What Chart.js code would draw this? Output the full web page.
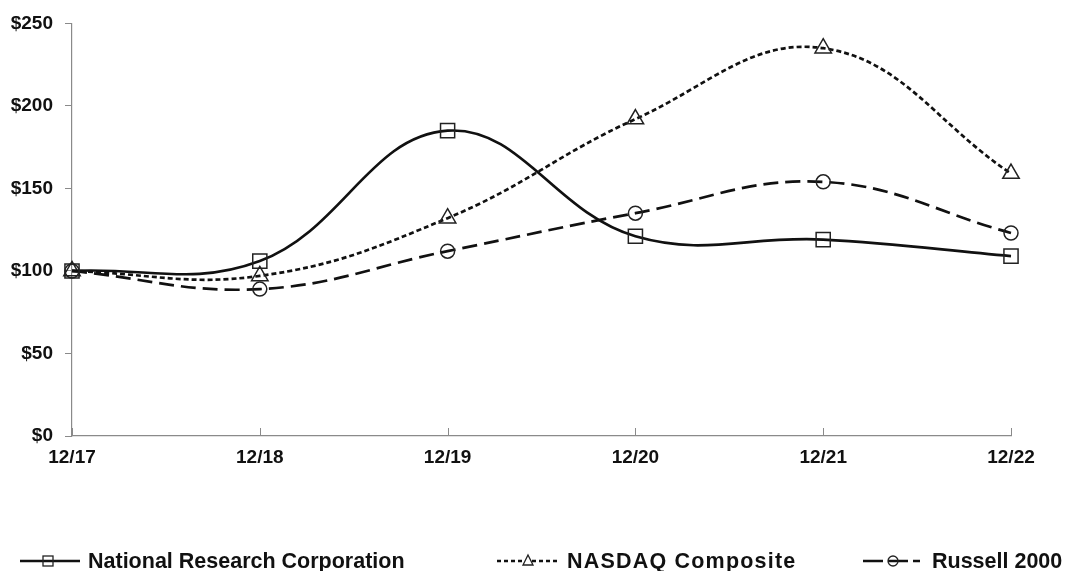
<!DOCTYPE html>
<html>
<head>
<meta charset="utf-8">
<script src="https://cdn.jsdelivr.net/npm/chart.js@4.4.1/dist/chart.umd.min.js"></script>
<style>
  html, body { margin: 0; padding: 0; background: #fff; }
  #wrap { position: relative; width: 1065px; height: 571px; }
  #c { position: absolute; left: 0; top: 0; }
  .lg { position: absolute; font-family: "Liberation Sans", Arial, sans-serif; font-weight: bold; font-size: 21.5px; line-height: 22px; height: 22px; color: #111; white-space: nowrap; }
  .sw { position: absolute; }
</style>
</head>
<body>
<div id="wrap">
  <canvas id="c" width="1065" height="571"></canvas>
  <svg class="sw" style="left:20px;top:551px" width="62" height="20">
    <line x1="0" y1="10" x2="60" y2="10" stroke="#111" stroke-width="2.5"/>
    <rect x="23" y="5" width="10" height="10" fill="none" stroke="#222" stroke-width="1.3"/>
  </svg>
  <div class="lg" style="left:88px;top:550px">National Research Corporation</div>
  <svg class="sw" style="left:497px;top:551px" width="62" height="20">
    <line x1="0" y1="10" x2="61" y2="10" stroke="#111" stroke-width="2.5" stroke-dasharray="4 3"/>
    <polygon points="31,4 36,14 26,14" fill="#fff" stroke="#222" stroke-width="1.3"/>
  </svg>
  <div class="lg" style="left:567px;top:550px;letter-spacing:1.2px">NASDAQ Composite</div>
  <svg class="sw" style="left:863px;top:551px" width="62" height="20">
    <line x1="0" y1="10" x2="57" y2="10" stroke="#111" stroke-width="2.5" stroke-dasharray="20 5"/>
    <circle cx="30" cy="10" r="5" fill="none" stroke="#222" stroke-width="1.3"/>
  </svg>
  <div class="lg" style="left:932px;top:550px">Russell 2000</div>
</div>
<script>
// ---- data ----
const categories = ["12/17", "12/18", "12/19", "12/20", "12/21", "12/22"];
const nrcValues = [100, 106, 185, 121, 119, 109];
const nasdaqValues = [100, 97, 132, 192, 235, 159];
const russellValues = [100, 89, 112, 135, 154, 123];
const yTickValues = [0, 50, 100, 150, 200, 250];
const seriesNames = ["National Research Corporation", "NASDAQ Composite", "Russell 2000"];

const FONT = { family: '"Liberation Sans", Arial, sans-serif', weight: 'bold', size: 19 };
const AXIS_COLOR = '#8a8a8a';

// draws the x-axis tick marks pointing upward (inside), from the library's own scale
const insideTicks = {
  id: 'insideTicks',
  beforeDatasetsDraw(chart) {
    const x = chart.scales.x;
    const ctx = chart.ctx;
    ctx.save();
    ctx.strokeStyle = AXIS_COLOR;
    ctx.lineWidth = 1;
    ctx.beginPath();
    for (let i = 0; i < x.ticks.length; i++) {
      const px = Math.round(x.getPixelForTick(i)) + 0.5;
      ctx.moveTo(px, x.top);
      ctx.lineTo(px, x.top - 8);
    }
    ctx.stroke();
    ctx.restore();
  }
};

new Chart(document.getElementById('c'), {
  type: 'line',
  data: {
    labels: categories,
    datasets: [
      {
        label: seriesNames[0], data: nrcValues,
        borderColor: '#111', borderWidth: 2.7, tension: 0.4,
        pointStyle: 'rect', pointRadius: 10, pointBorderWidth: 1.5,
        pointBorderColor: '#222', pointBackgroundColor: 'rgba(0,0,0,0)'
      },
      {
        label: seriesNames[1], data: nasdaqValues,
        borderColor: '#111', borderWidth: 2.7, borderDash: [5, 3], tension: 0.4,
        pointStyle: 'triangle', pointRadius: 9.5, pointBorderWidth: 1.5,
        pointBorderColor: '#222', pointBackgroundColor: 'rgba(0,0,0,0)'
      },
      {
        label: seriesNames[2], data: russellValues,
        borderColor: '#111', borderWidth: 2.7, borderDash: [15, 7], tension: 0.4,
        pointStyle: 'circle', pointRadius: 7, pointBorderWidth: 1.5,
        pointBorderColor: '#222', pointBackgroundColor: 'rgba(0,0,0,0)'
      }
    ]
  },
  options: {
    responsive: false,
    animation: false,
    events: [],
    layout: { padding: { left: 0, top: 23, right: 54, bottom: 0 } },
    plugins: { legend: { display: false }, tooltip: { enabled: false } },
    scales: {
      x: {
        offset: false,
        grid: { display: true, drawOnChartArea: false, drawTicks: false, color: AXIS_COLOR },
        border: { display: true, color: AXIS_COLOR, width: 1.2 },
        ticks: { color: '#111', font: FONT, padding: 10, maxRotation: 0, autoSkip: false },
        afterFit(scale) { scale.height = 571 - 436; }
      },
      y: {
        min: 0, max: 250,
        afterBuildTicks(scale) { scale.ticks = yTickValues.map(v => ({ value: v })); },
        grid: { display: true, drawOnChartArea: false, drawTicks: true, tickLength: 7, color: AXIS_COLOR },
        border: { display: true, color: AXIS_COLOR, width: 1.2 },
        ticks: { color: '#111', font: FONT, padding: 12, callback: v => '$' + v },
        afterFit(scale) { scale.width = 72; }
      }
    }
  },
  plugins: [insideTicks]
});
</script>
</body>
</html>
